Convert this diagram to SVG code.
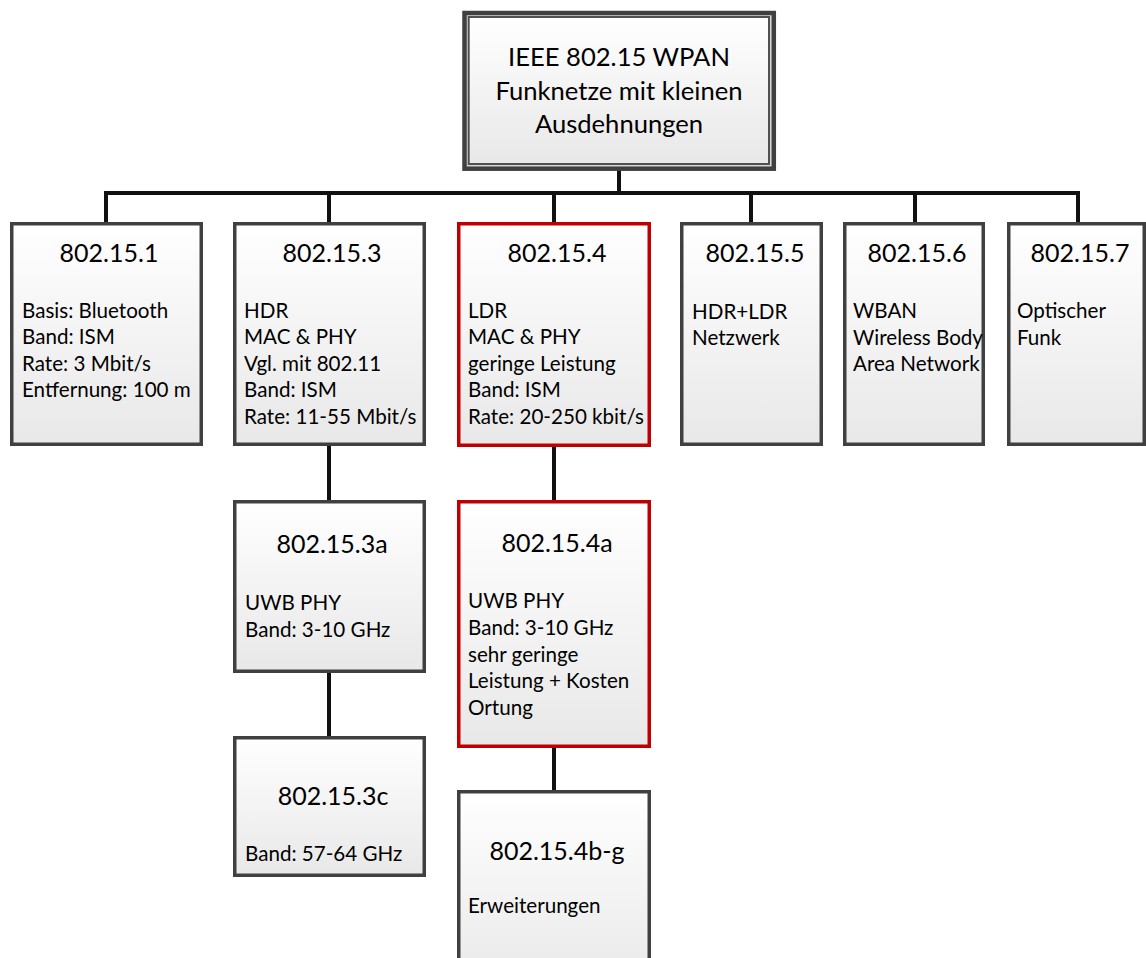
<svg xmlns="http://www.w3.org/2000/svg" width="1146" height="958" viewBox="0 0 1146 958">
<defs>
<linearGradient id="g" x1="0" y1="0" x2="0" y2="1">
<stop offset="0" stop-color="#ffffff"/>
<stop offset="1" stop-color="#e8e8e8"/>
</linearGradient>
<style>
.box{fill:url(#g);stroke:#404040;stroke-width:3.5}
.red{fill:url(#g);stroke:#c00000;stroke-width:3.5}
.t{font-family:Lato,"Open Sans",sans-serif;font-size:25px;fill:#000;text-anchor:middle}
.rt{font-size:25.6px}
.b{font-family:Lato,"Open Sans",sans-serif;font-size:20.6px;fill:#000}
.c{fill:none;stroke:#111;stroke-width:4}
</style>
</defs>
<rect width="1146" height="958" fill="#fff"/>
<g id="connectors">
<line class="c" x1="619" y1="170" x2="619" y2="193"/>
<path class="c" d="M106 223 V193 H1078 V223"/>
<line class="c" x1="329" y1="193" x2="329" y2="223"/>
<line class="c" x1="554" y1="193" x2="554" y2="223"/>
<line class="c" x1="751" y1="193" x2="751" y2="223"/>
<line class="c" x1="915" y1="193" x2="915" y2="223"/>
<line class="c" x1="329" y1="445" x2="329" y2="501"/>
<line class="c" x1="329" y1="672" x2="329" y2="737"/>
<line class="c" x1="554" y1="446" x2="554" y2="501"/>
<line class="c" x1="554" y1="747" x2="554" y2="791"/>
</g>
<g id="root">
<rect x="464.5" y="13" width="309.3" height="155.7" fill="#d8d8d8" stroke="#404040" stroke-width="4.5"/>
<rect x="468.7" y="17" width="300.3" height="147" fill="url(#g)" stroke="#505050" stroke-width="2"/>
<text class="t rt" x="619" y="66">IEEE 802.15 WPAN</text>
<text class="t rt" x="619" y="99.5">Funknetze mit kleinen</text>
<text class="t rt" x="619" y="133">Ausdehnungen</text>
</g>
<g id="n1">
<rect class="box" x="11.75" y="223.75" width="189.5" height="220.5"/>
<text class="t" x="109" y="262">802.15.1</text>
<text class="b" x="22" y="317.5">Basis: Bluetooth</text>
<text class="b" x="22" y="344">Band: ISM</text>
<text class="b" x="22" y="370.5">Rate: 3 Mbit/s</text>
<text class="b" x="22" y="397">Entfernung: 100 m</text>
</g>
<g id="n3">
<rect class="box" x="234.75" y="223.75" width="189.5" height="220.5"/>
<text class="t" x="332" y="262">802.15.3</text>
<text class="b" x="244" y="317.5">HDR</text>
<text class="b" x="244" y="344">MAC &amp; PHY</text>
<text class="b" x="244" y="370.5">Vgl. mit 802.11</text>
<text class="b" x="244" y="397">Band: ISM</text>
<text class="b" x="244" y="423.5">Rate: 11-55 Mbit/s</text>
</g>
<g id="n4">
<rect class="red" x="458.75" y="223.75" width="190.5" height="221.5"/>
<text class="t" x="557" y="262">802.15.4</text>
<text class="b" x="468" y="317.5">LDR</text>
<text class="b" x="468" y="344">MAC &amp; PHY</text>
<text class="b" x="468" y="370.5">geringe Leistung</text>
<text class="b" x="468" y="397">Band: ISM</text>
<text class="b" x="468" y="423.5">Rate: 20-250 kbit/s</text>
</g>
<g id="n5">
<rect class="box" x="681.75" y="223.75" width="139.5" height="220.5"/>
<text class="t" x="755" y="262">802.15.5</text>
<text class="b" x="692" y="318.5">HDR+LDR</text>
<text class="b" x="692" y="345">Netzwerk</text>
</g>
<g id="n6">
<rect class="box" x="844.75" y="223.75" width="138.5" height="220.5"/>
<text class="t" x="917" y="262">802.15.6</text>
<text class="b" x="853" y="318">WBAN</text>
<text class="b" x="853" y="344.5">Wireless Body</text>
<text class="b" x="853" y="371">Area Network</text>
</g>
<g id="n7">
<rect class="box" x="1008.75" y="223.75" width="135.5" height="220.5"/>
<text class="t" x="1080" y="262">802.15.7</text>
<text class="b" x="1017" y="318">Optischer</text>
<text class="b" x="1017" y="344.5">Funk</text>
</g>
<g id="n3a">
<rect class="box" x="234.75" y="501.75" width="189.5" height="169.5"/>
<text class="t" x="332" y="553">802.15.3a</text>
<text class="b" x="245" y="610">UWB PHY</text>
<text class="b" x="245" y="637">Band: 3-10 GHz</text>
</g>
<g id="n3c">
<rect class="box" x="234.75" y="737.75" width="189.5" height="137.5"/>
<text class="t" x="333" y="805">802.15.3c</text>
<text class="b" x="245" y="861">Band: 57-64 GHz</text>
</g>
<g id="n4a">
<rect class="red" x="458.75" y="501.75" width="190.5" height="244.5"/>
<text class="t" x="557" y="552">802.15.4a</text>
<text class="b" x="468" y="608">UWB PHY</text>
<text class="b" x="468" y="635">Band: 3-10 GHz</text>
<text class="b" x="468" y="662">sehr geringe</text>
<text class="b" x="468" y="688">Leistung + Kosten</text>
<text class="b" x="468" y="715">Ortung</text>
</g>
<g id="n4bg">
<rect class="box" x="458.75" y="791.75" width="190.5" height="200"/>
<text class="t" x="557" y="860">802.15.4b-g</text>
<text class="b" x="468" y="913">Erweiterungen</text>
</g>
</svg>
